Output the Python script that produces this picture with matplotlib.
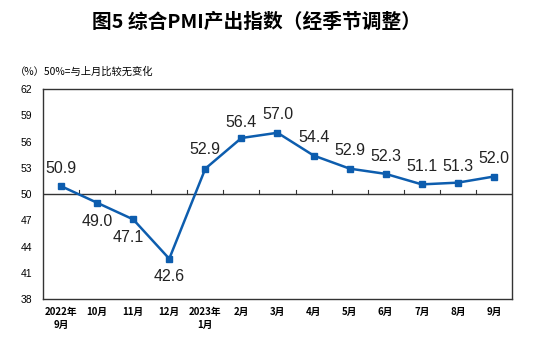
import matplotlib.pyplot as plt
import numpy as np

plt.rcParams['font.family'] = ['Noto Sans CJK SC', 'DejaVu Sans']

months = ['2022年\n9月', '10月', '11月', '12月', '2023年\n1月', '2月', '3月',
          '4月', '5月', '6月', '7月', '8月', '9月']
values = [50.9, 49.0, 47.1, 42.6, 52.9, 56.4, 57.0, 54.4, 52.9, 52.3, 51.1, 51.3, 52.0]
# label offsets in pixels (dx, dy)
label_offsets = [(0, 18), (0, -19), (-5, -18), (0, -18), (0, 19), (0, 16), (0, 18),
                 (0, 18), (0, 18), (0, 17), (0, 18), (0, 16), (0, 18)]
yticks = np.arange(38, 63, 3)

fig = plt.figure(figsize=(5.54, 3.45), dpi=100)
ax = fig.add_axes([0.0776, 0.1333, 0.8466, 0.6087])

x = np.arange(len(values))
blue = '#0D5DAE'
ax.plot(x, values, color=blue, linewidth=1.8, marker='s', markersize=5,
        zorder=3)

for xi, v, (dx, dy) in zip(x, values, label_offsets):
    ax.annotate(f'{v:.1f}', (xi, v), xytext=(dx, dy), textcoords='offset pixels',
                ha='center', va='center', fontsize=11.5,
                family='Liberation Sans', color='#222222')

# 50 line, with small ticks between months
ax.axhline(50, color='#333333', linewidth=1.0, zorder=2)
for b in np.arange(0.5, len(values) - 1, 1.0):
    ax.plot([b, b], [50, 50.45], color='#333333', linewidth=0.8, zorder=2)

ax.set_xlim(-0.5, len(values) - 0.5)
ax.set_ylim(38, 62)
ax.set_yticks(yticks)
ax.set_yticklabels([str(t) for t in yticks], fontsize=7.5,
                   family='Liberation Sans')
ax.set_xticks(x)
ax.set_xticklabels(months, fontsize=7, fontweight='bold', linespacing=1.3)
ax.tick_params(axis='both', length=0)
ax.tick_params(axis='y', pad=8)
ax.tick_params(axis='x', pad=6)
for s in ax.spines.values():
    s.set_color('#333333')
    s.set_linewidth(1.0)

fig.text(0.463, 0.935, '图5 综合PMI产出指数（经季节调整）', ha='center',
         va='center', fontsize=14.2, fontweight='bold')
fig.text(0.027, 0.793, '（%）50%=与上月比较无变化', ha='left', va='center',
         fontsize=7.4)

fig.savefig('out.png', dpi=100)
